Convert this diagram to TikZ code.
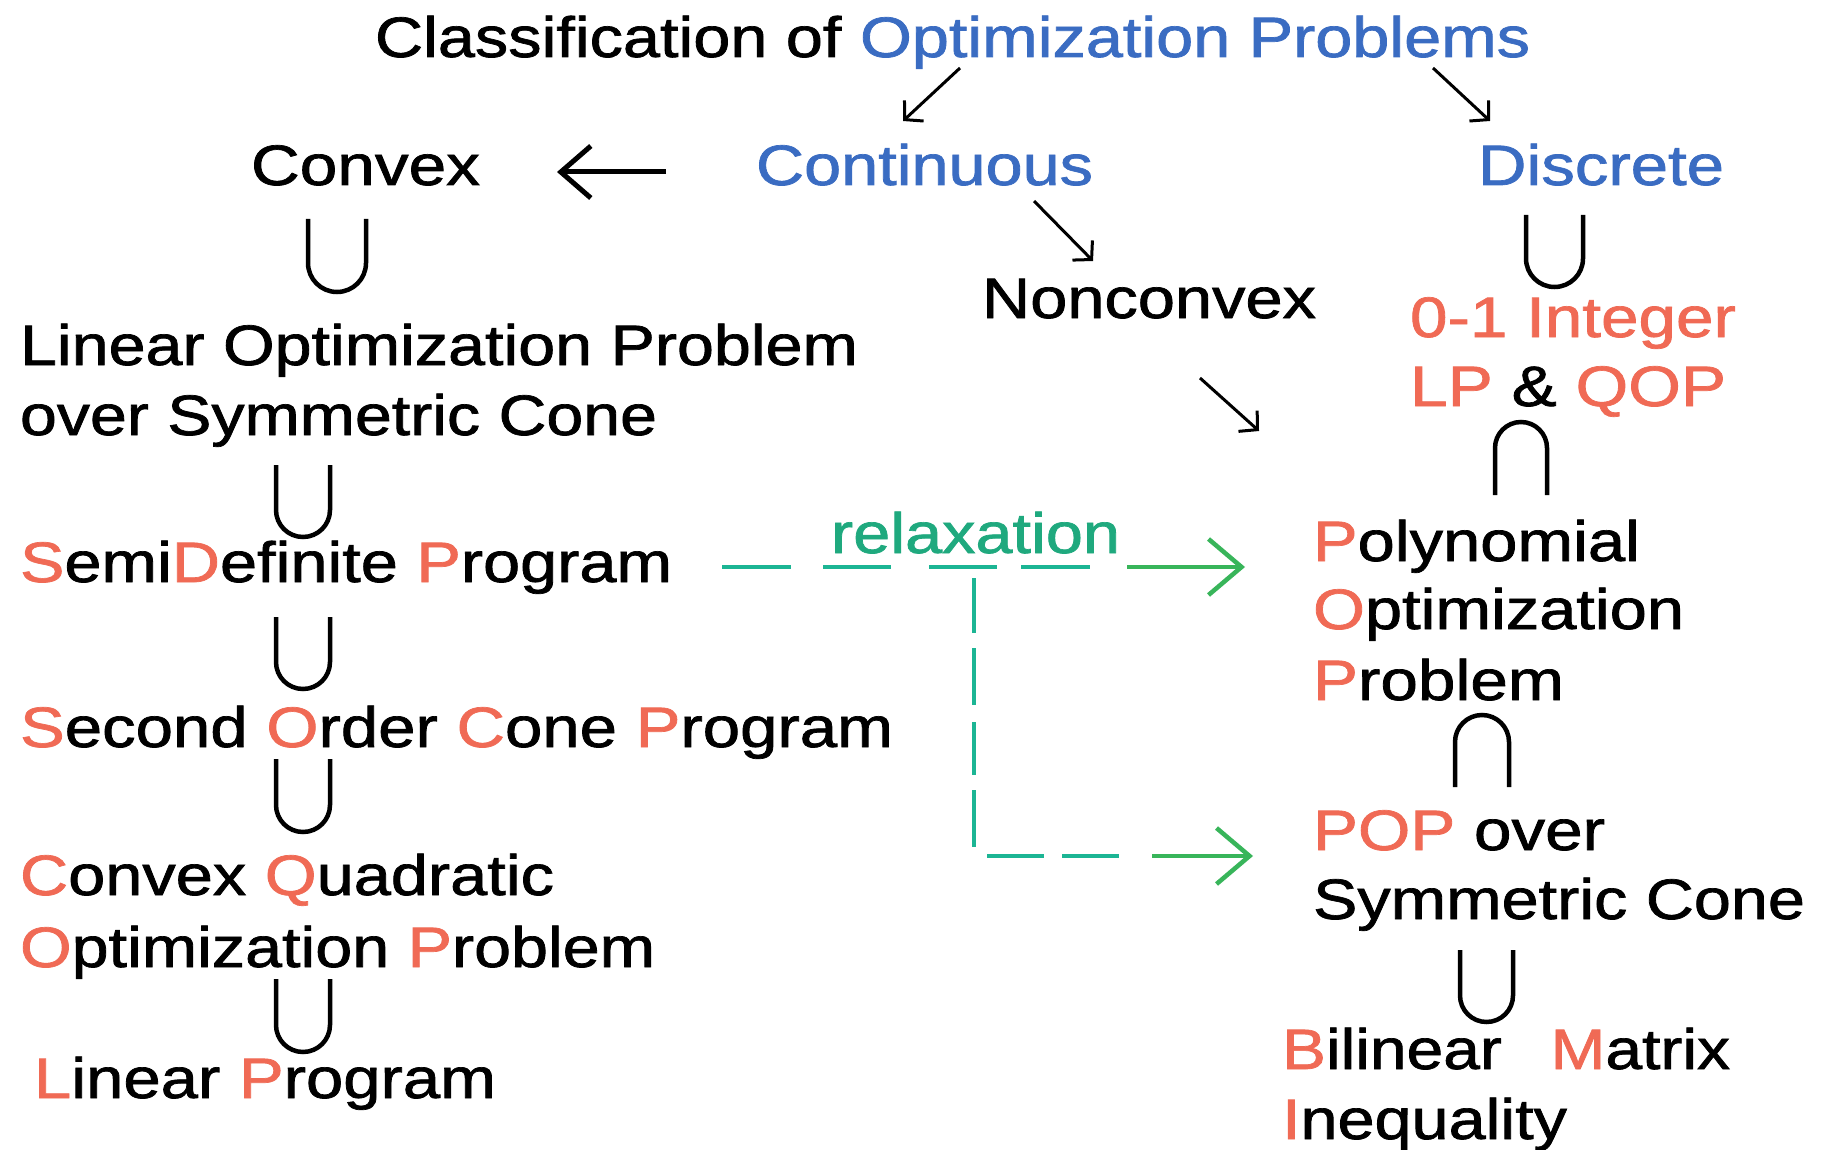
\documentclass[tikz,border=0pt]{standalone}
\usepackage{fontspec}
\setmainfont{Liberation Sans}[FakeBold=1.2]
\usepackage{graphicx}
\usetikzlibrary{arrows.meta}
\definecolor{tred}{HTML}{F06A55}
\definecolor{tblue}{HTML}{3A6CC2}
\definecolor{rgreen}{HTML}{1FA97E}
\definecolor{rdash}{HTML}{1CB594}
\definecolor{rarrow}{HTML}{38B55A}
\newcommand\R[1]{\textcolor{tred}{#1}}
\newcommand\fitw[2]{\resizebox{#1pt}{\height}{#2}}
% x1 x2 top bottom
\newcommand\mycup[4]{\draw[setsym] (#1,-#3) -- ({#1},{-(#4)+((#2)-(#1))/2}) arc[start angle=180,end angle=360,radius={((#2)-(#1))/2}] -- (#2,-#3);}
\newcommand\mycap[4]{\draw[setsym] (#1,-#4) -- ({#1},{-(#3)-((#2)-(#1))/2}) arc[start angle=180,end angle=0,radius={((#2)-(#1))/2}] -- (#2,-#4);}
\begin{document}
\begin{tikzpicture}[x=1pt,y=1pt,
  txt/.style={inner sep=0pt, outer sep=0pt, anchor=base west, font=\fontsize{57}{68}\selectfont},
  setsym/.style={line width=4.5pt},
  catarrow/.style={line width=3pt, -{Straight Barb[length=13pt,width=28pt]}},
  bigarrow/.style={line width=5pt, -{Straight Barb[length=30pt,width=52pt]}},
  reldash/.style={rdash, line width=4.5pt},
  relarrow/.style={rarrow, line width=4.5pt, -{Straight Barb[length=33pt,width=56pt]}}]
\path[use as bounding box, fill=white] (0,0) rectangle (1825,-1150);

% texts
\node[txt] (title) at (375,-57) {\fitw{1155}{Classification of \textcolor{tblue}{Optimization Problems}}};
\node[txt] (convex) at (251,-185) {\fitw{229}{Convex}};
\node[txt, text=tblue] (cont) at (756,-185) {\fitw{337}{Continuous}};
\node[txt, text=tblue] (disc) at (1478,-185) {\fitw{246}{Discrete}};
\node[txt] (noncvx) at (982,-318) {\fitw{334}{Nonconvex}};

\node[txt] (lop1) at (20,-365) {\fitw{838}{Linear Optimization Problem}};
\node[txt] (lop2) at (20,-435) {\fitw{637}{over Symmetric Cone}};
\node[txt] (sdp) at (20,-582) {\fitw{652}{\R{S}emi\R{D}efinite \R{P}rogram}};
\node[txt] (socp) at (20,-747) {\fitw{873}{\R{S}econd \R{O}rder \R{C}one \R{P}rogram}};
\node[txt] (cqp1) at (20,-895) {\fitw{534}{\R{C}onvex \R{Q}uadratic}};
\node[txt] (cqp2) at (20,-967) {\fitw{635}{\R{O}ptimization \R{P}roblem}};
\node[txt] (lp) at (34,-1098) {\fitw{462}{\R{L}inear \R{P}rogram}};

\node[txt, text=rgreen] (relax) at (831,-553) {\fitw{289}{relaxation}};

\node[txt] (int1) at (1410,-337) {\fitw{326}{\R{0-1 Integer}}};
\node[txt] (int2) at (1410,-406) {\fitw{316}{\R{LP} \& \R{QOP}}};
\node[txt] (pop1) at (1313,-561) {\fitw{327}{\R{P}olynomial}};
\node[txt] (pop2) at (1313,-629) {\fitw{371}{\R{O}ptimization}};
\node[txt] (pop3) at (1313,-700) {\fitw{251}{\R{P}roblem}};
\node[txt] (popsc1) at (1313,-850) {\fitw{292}{\R{POP} over}};
\node[txt] (popsc2) at (1313,-919) {\fitw{492}{Symmetric Cone}};
\node[txt] (bmi1) at (1282,-1069) {\fitw{448}{\R{B}ilinear\hspace{42pt}\R{M}atrix}};
\node[txt] (bmi2) at (1282,-1139) {\fitw{285}{\R{I}nequality}};

% set symbols
\mycup{308}{366}{219}{292}
\mycup{276}{330}{465}{537}
\mycup{276}{330}{617}{689}
\mycup{276}{330}{759}{832}
\mycup{276}{330}{979}{1052}
\mycup{1526}{1583}{215}{287}
\mycap{1495}{1547}{422}{495}
\mycap{1455}{1509}{715}{787}
\mycup{1460}{1513}{950}{1022}

% category arrows
\coordinate (a1s) at (960,-68);  \coordinate (a1e) at (903,-121);
\coordinate (a2s) at (1433,-68); \coordinate (a2e) at (1490,-121);
\coordinate (a3s) at (1034,-201); \coordinate (a3e) at (1093,-261);
\coordinate (a4s) at (1200,-378); \coordinate (a4e) at (1259,-431);
\coordinate (c0) at (666,-172);  \coordinate (c1) at (557,-172);
\draw[catarrow] (a1s) -- (a1e);
\draw[catarrow] (a2s) -- (a2e);
\draw[catarrow] (a3s) -- (a3e);
\draw[catarrow] (a4s) -- (a4e);
\draw[bigarrow] (c0) -- (c1);

% relaxation connectors
\coordinate (r0) at (722,-567); \coordinate (r1) at (1090,-567);
\coordinate (r2) at (1127,-567); \coordinate (r3) at (1245,-567);
\coordinate (v0) at (974,-578); \coordinate (v1) at (974,-847);
\coordinate (b0) at (987,-856); \coordinate (b1) at (1119,-856);
\coordinate (b2) at (1152,-856); \coordinate (b3) at (1253,-856);
\draw[reldash, dash pattern=on 69pt off 32pt on 68pt off 38pt on 68pt off 24pt on 69pt off 100pt] (r0) -- (r1);
\draw[relarrow] (r2) -- (r3);
\draw[reldash, dash pattern=on 55pt off 15pt on 57pt off 17pt on 53pt off 15pt on 57pt off 100pt] (v0) -- (v1);
\draw[reldash, dash pattern=on 57pt off 18pt on 57pt off 100pt] (b0) -- (b1);
\draw[relarrow] (b2) -- (b3);
\end{tikzpicture}
\end{document}
